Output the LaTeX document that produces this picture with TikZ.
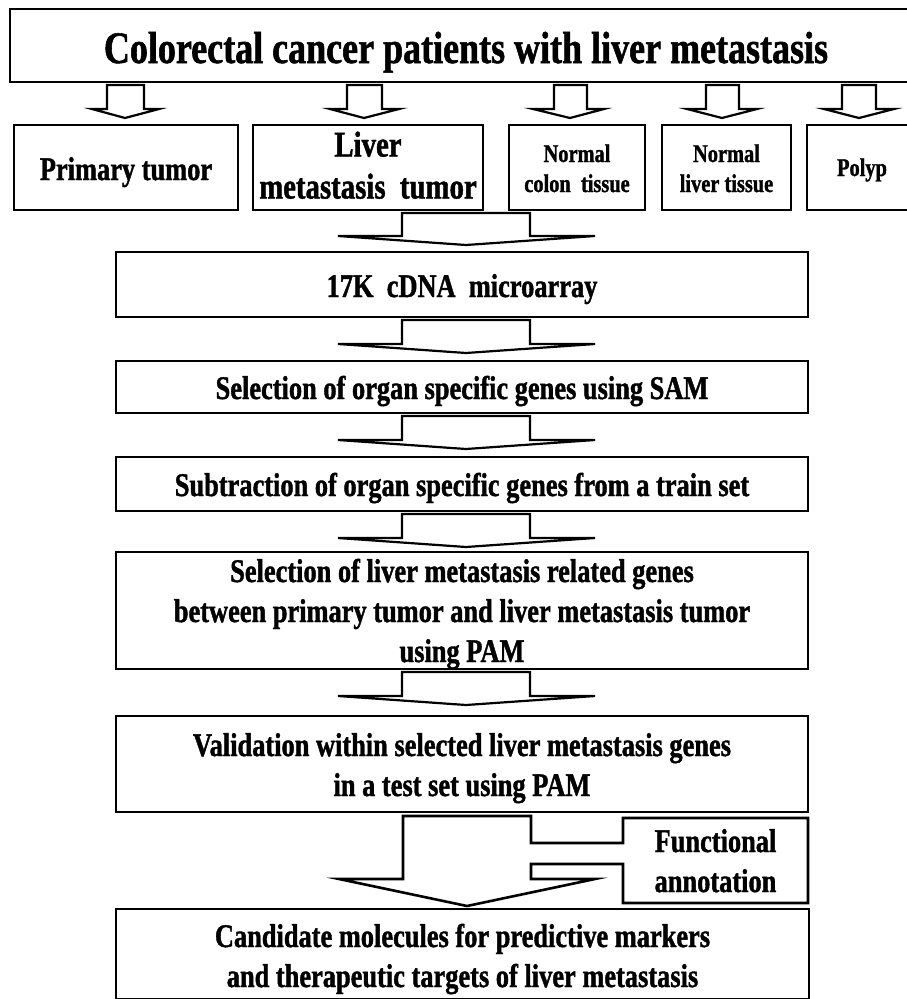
\documentclass[tikz,border=0pt]{standalone}
\usepackage{fontspec}
\setmainfont{Liberation Serif}[FakeStretch=0.8,BoldFeatures={FakeBold=1.2}]
\newcommand\blkarrow[8]{\draw[blk] (#1,#6) -- (#2,#6) -- (#2,#7) -- (#4,#7) -- (#5,#8) -- (#3,#7) -- (#1,#7) -- cycle;}
\newcommand\lines[1]{\begin{tabular}[t]{@{}c@{}}#1\end{tabular}}
\begin{document}
\begin{tikzpicture}[x=1pt,y=-1pt,
  box/.style={draw, line width=2.6pt, inner sep=0pt, font=\bfseries\fontsize{33}{40}\selectfont},
  small/.style={font=\bfseries\fontsize{25.5}{30}\selectfont},
  blk/.style={draw, line width=2.2pt, line join=miter}]
\useasboundingbox (0,0) rectangle (907,999);
\fill[white] (0,0) rectangle (907,999);

% title
\node[box, minimum width=912pt, minimum height=73pt, text height=35pt, text depth=0pt,
  font=\bfseries\fontsize{45}{54}\selectfont] (title) at (466,45.5)
  {Colorectal cancer patients with liver metastasis};

% small arrows
\blkarrow{107}{144}{92}{159}{125}{85}{109}{118}
\blkarrow{347}{382}{330}{399}{364}{85}{109}{118}
\blkarrow{554}{587}{533}{604}{570}{85}{109}{118}
\blkarrow{706}{739}{687}{757}{722}{85}{109}{118}
\blkarrow{842}{876}{824}{894}{859}{85}{109}{118}

% row of sample boxes
\node[box, minimum width=224pt, minimum height=85pt, text height=25pt, text depth=0pt] (prim) at (126,167.5) {Primary tumor};
\node[box, minimum width=230pt, minimum height=85pt, text height=0pt, text depth=22pt,
  font=\bfseries\fontsize{36}{42}\selectfont] (lmt) at (368,167.5) {\lines{Liver\\ metastasis\ \ tumor}};
\node[box, small, minimum width=136pt, minimum height=85pt, text height=0pt, text depth=11pt] (nct) at (577,167.5) {\lines{Normal\\ colon\ \ tissue}};
\node[box, small, minimum width=129pt, minimum height=85pt, text height=0pt, text depth=11pt] (nlt) at (726.5,167.5) {\lines{Normal\\ liver tissue}};
\node[box, small, minimum width=110pt, minimum height=85pt, text height=17pt, text depth=0pt] (polyp) at (862,167.5) {Polyp};

% pipeline
\blkarrow{402}{530}{338}{595}{466}{213}{236}{245}
\node[box, minimum width=692pt, minimum height=65pt, text height=25pt, text depth=0pt] (cdna) at (462,284.5) {17K\ \ cDNA\ \ microarray};
\blkarrow{402}{530}{338}{595}{466}{320}{344}{353}
\node[box, minimum width=692pt, minimum height=52pt, text height=24pt, text depth=0pt] (sam) at (462,387) {Selection of organ specific genes using SAM};
\blkarrow{402}{530}{338}{595}{466}{416}{440}{449}
\node[box, minimum width=692pt, minimum height=54pt, text height=24pt, text depth=0pt] (sub) at (462,484) {Subtraction of organ specific genes from a train set};
\blkarrow{402}{530}{338}{595}{466}{514}{538}{547}
\node[box, minimum width=692pt, minimum height=117pt, text height=0pt, text depth=57pt] (pam) at (462,610.5) {\lines{Selection of liver metastasis related genes\\ between primary tumor and liver metastasis tumor\\ using PAM}};
\blkarrow{402}{530}{338}{595}{466}{672}{696}{705}
\node[box, minimum width=692pt, minimum height=96pt, text height=0pt, text depth=16pt] (val) at (462,764) {\lines{Validation within selected liver metastasis genes\\ in a test set using PAM}};

% final arrow merged with functional annotation box
\draw[blk, line width=2.6pt] (403,816) -- (531,816) -- (531,843) -- (623,843) -- (623,818) -- (808,818)
  -- (808,903) -- (623,903) -- (623,864) -- (531,864) -- (531,879) -- (595,879) -- (467,906)
  -- (339,879) -- (403,879) -- cycle;
\node[inner sep=0pt, font=\bfseries\fontsize{33}{40}\selectfont, minimum width=185pt, minimum height=85pt, text height=0pt, text depth=17pt] (func) at (715.5,860.5) {\lines{Functional\\ annotation}};

\node[box, minimum width=693pt, minimum height=90.5pt, text height=0pt, text depth=14.5pt] (cand) at (462.5,954.25) {\lines{Candidate molecules for predictive markers\\ and therapeutic targets of liver metastasis}};
\end{tikzpicture}
\end{document}
